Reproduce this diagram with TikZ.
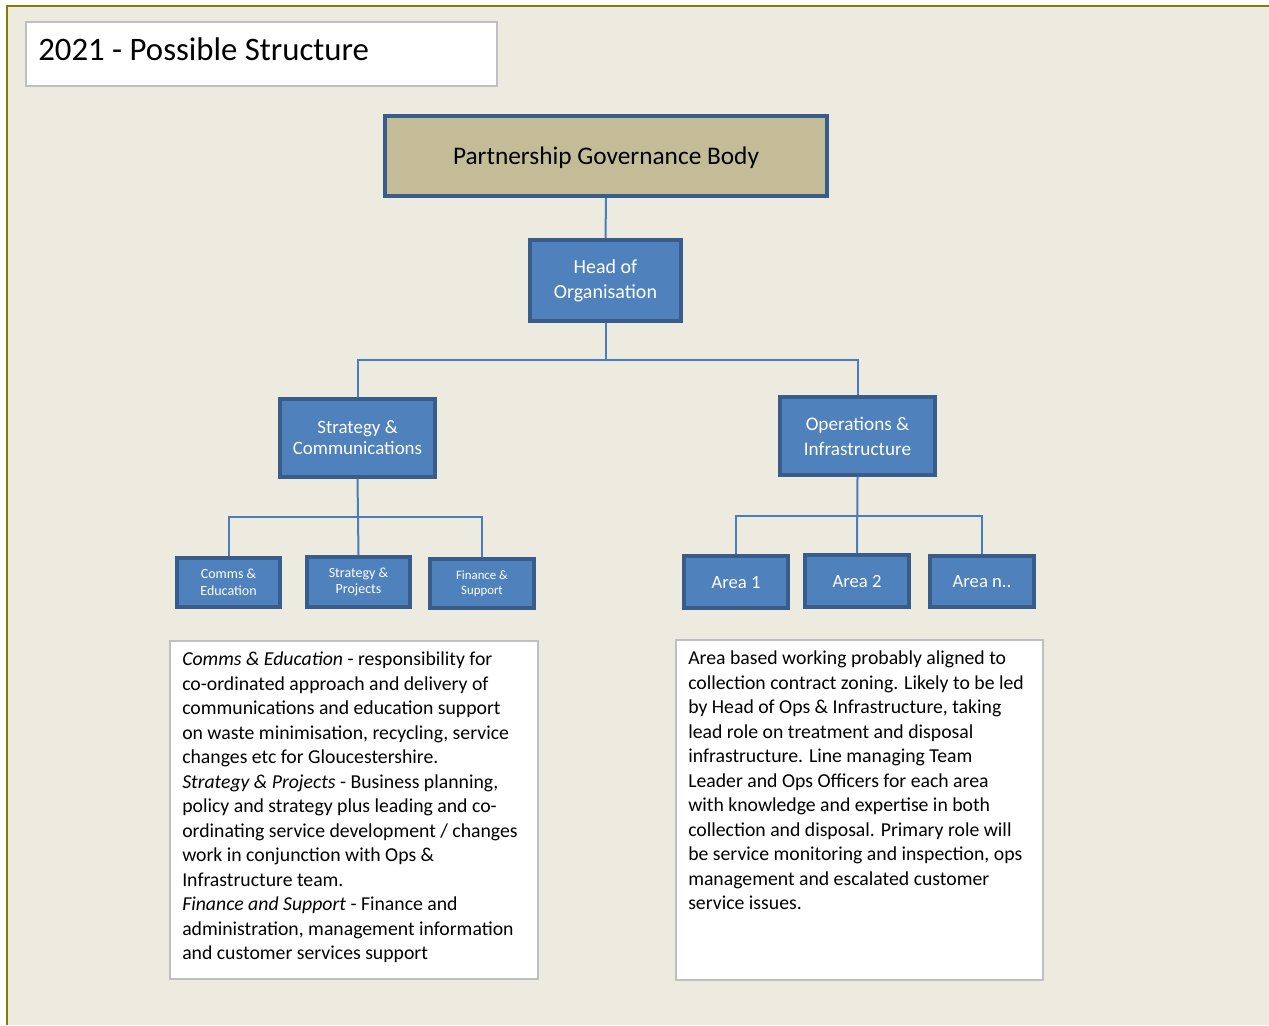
\documentclass[tikz,border=0pt]{standalone}
\usepackage{fontspec}
\setmainfont{Carlito}
\definecolor{cream}{RGB}{237,234,223}
\definecolor{olivebar}{RGB}{128,128,0}
\definecolor{boxblue}{RGB}{79,129,189}
\definecolor{edgeblue}{RGB}{56,93,138}
\definecolor{linkblue}{RGB}{74,126,187}
\definecolor{tan}{RGB}{196,188,150}
\definecolor{greyedge}{RGB}{191,191,191}
\tikzset{
  bluebox/.style={draw=edgeblue, line width=3pt, fill=boxblue, text=white, align=center, inner sep=0pt},
  conn/.style={draw=linkblue, line width=1.5pt},
  notebox/.style={draw=greyedge, line width=2pt, fill=white, inner sep=0pt},
  notetext/.style={anchor=north west, inner sep=0pt, align=left, font=\fontsize{14.8}{18.4}\selectfont}
}
\begin{document}
\begin{tikzpicture}[x=0.75pt,y=-0.75pt]
\useasboundingbox (0,0) rectangle (1269,1025);
\fill[white] (0,0) rectangle (1269,1025);
\fill[cream] (7,6) rectangle (1269,1025);
\draw[olivebar, line width=2pt] (7,1025) -- (7,6) -- (1269,6);

% title
\node[draw=greyedge, line width=1.5pt, fill=white, minimum width=471*0.75pt, minimum height=64*0.75pt] (title) at (261.5,54) {};
\node[anchor=west, inner sep=0pt, font=\fontsize{24.6}{28}\selectfont] (titletext) at (38,49) {2021 - Possible Structure};

% top
\node[draw=edgeblue, line width=3pt, fill=tan, minimum width=442*0.75pt, minimum height=80*0.75pt, text depth=0pt, font=\fontsize{19}{22}\selectfont] (pgb) at (606,156) {Partnership Governance Body};
\node[bluebox, minimum width=151*0.75pt, minimum height=81*0.75pt, font=\fontsize{15}{18.75}\selectfont] (head) at (605.5,280.5) {Head of\\Organisation};

\node[bluebox, minimum width=155*0.75pt, minimum height=78*0.75pt, font=\fontsize{14.2}{15.75}\selectfont] (strat) at (357.5,438) {Strategy \&\\Communications};
\node[bluebox, minimum width=155*0.75pt, minimum height=78*0.75pt, font=\fontsize{14.4}{18.75}\selectfont] (ops) at (857.5,436) {Operations \&\\Infrastructure};

\node[bluebox, minimum width=103*0.75pt, minimum height=49*0.75pt, font=\fontsize{10.5}{12.75}\selectfont] (comms) at (228.5,582.5) {Comms \&\\Education};
\node[bluebox, minimum width=103*0.75pt, minimum height=50*0.75pt, font=\fontsize{10.5}{12}\selectfont] (sp) at (358.5,582) {Strategy \&\\Projects};
\node[bluebox, minimum width=104*0.75pt, minimum height=49*0.75pt, font=\fontsize{9.6}{11.25}\selectfont] (fin) at (482,583.5) {Finance \&\\Support};

\node[bluebox, minimum width=104*0.75pt, minimum height=52*0.75pt, text depth=0pt, font=\fontsize{14}{16}\selectfont] (a1) at (736,582) {Area 1};
\node[bluebox, minimum width=104*0.75pt, minimum height=52*0.75pt, font=\fontsize{14}{16}\selectfont] (a2) at (857,581) {Area 2};
\node[bluebox, minimum width=104*0.75pt, minimum height=51*0.75pt, font=\fontsize{14}{16}\selectfont] (an) at (982,581.5) {Area n..};

% connectors
\draw[conn] (pgb.south) -- (head.north);
\draw[conn] (head.south) -- (head.south |- 0,360) -| (strat.north);
\draw[conn] (head.south |- 0,360) -| (ops.north);
\draw[conn] (strat.south) -- (sp.north);
\draw[conn] (strat.south |- 0,517) -| (comms.north);
\draw[conn] (strat.south |- 0,517) -| (fin.north);
\draw[conn] (ops.south) -- (a2.north);
\draw[conn] (ops.south |- 0,516) -| (a1.north);
\draw[conn] (ops.south |- 0,516) -| (an.north);

% notes
\node[notebox, minimum width=368*0.75pt, minimum height=338*0.75pt] (leftnote) at (354,810) {};
\node[notetext] (lefttext) at (182,651.5) {%
\textit{Comms \& Education} - responsibility for\\
co-ordinated approach and delivery of\\
communications and education support\\
on waste minimisation, recycling, service\\
changes etc for Gloucestershire.\\
\textit{Strategy \& Projects} - Business planning,\\
policy and strategy plus leading and co-\\
ordinating service development / changes\\
work in conjunction with Ops \&\\
Infrastructure team.\\
\textit{Finance and Support} - Finance and\\
administration, management information\\
and customer services support};

\node[notebox, minimum width=367*0.75pt, minimum height=340*0.75pt] (rightnote) at (859.5,810) {};
\node[notetext] (righttext) at (688,650.5) {%
Area based working probably aligned to\\
collection contract zoning. Likely to be led\\
by Head of Ops \& Infrastructure, taking\\
lead role on treatment and disposal\\
infrastructure. Line managing Team\\
Leader and Ops Officers for each area\\
with knowledge and expertise in both\\
collection and disposal. Primary role will\\
be service monitoring and inspection, ops\\
management and escalated customer\\
service issues.};
\end{tikzpicture}
\end{document}
